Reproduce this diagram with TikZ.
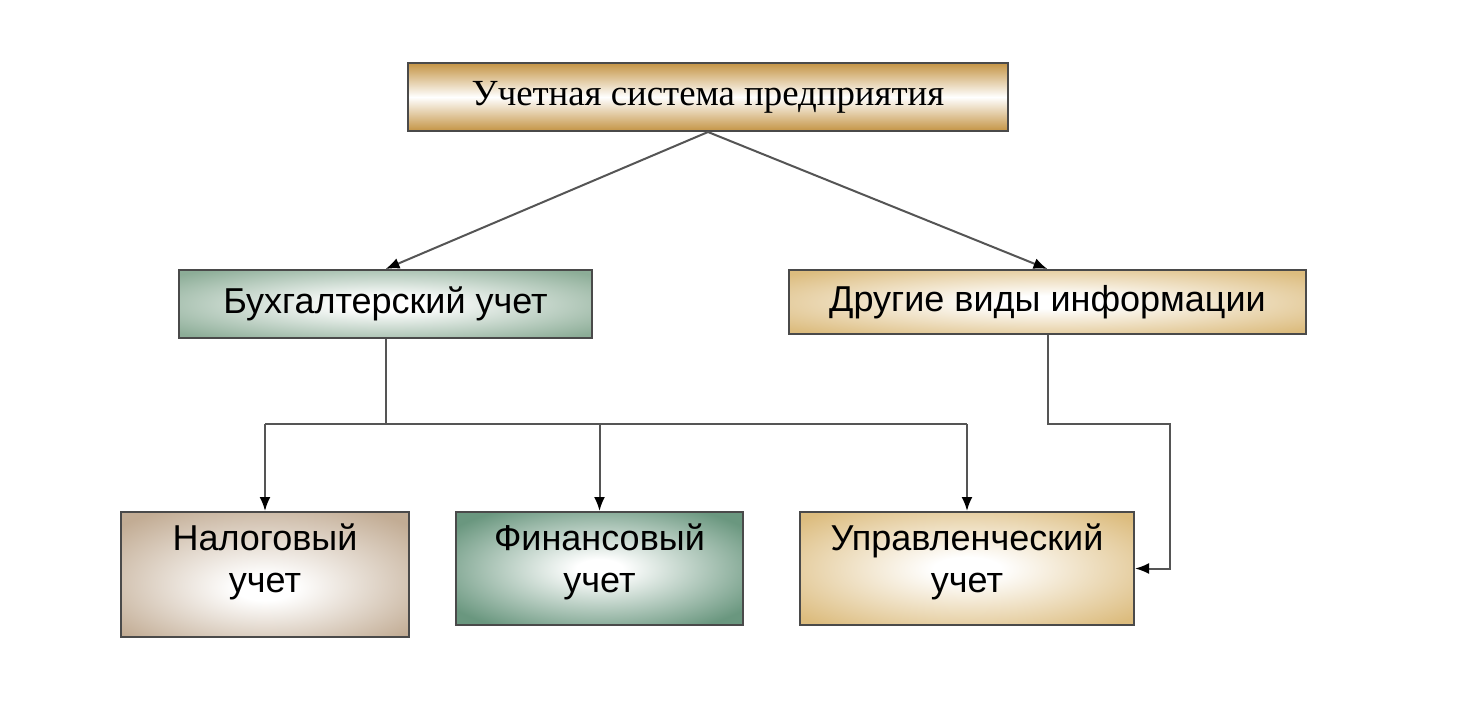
\documentclass[tikz,border=0pt]{standalone}
\usepackage{fontspec}
\setmainfont{Liberation Serif}
\setsansfont{Liberation Sans}
\usetikzlibrary{arrows.meta}
\definecolor{gold}{HTML}{C49444}
\definecolor{sage}{HTML}{8CAD97}
\definecolor{sand}{HTML}{DCBC7E}
\definecolor{taupe}{HTML}{C2AC94}
\definecolor{green2}{HTML}{6A977F}
\definecolor{edge}{HTML}{4A4A4A}
\definecolor{wire}{HTML}{555555}
\pgfdeclareradialshading{rsage}{\pgfpoint{0bp}{0bp}}{color(0bp)=(white); color(5bp)=(white); color(33bp)=(sage); color(50bp)=(sage)}
\pgfdeclareradialshading{rsand}{\pgfpoint{0bp}{0bp}}{color(0bp)=(white); color(5bp)=(white); color(33bp)=(sand); color(50bp)=(sand)}
\pgfdeclareradialshading{rtaupe}{\pgfpoint{0bp}{-6bp}}{color(0bp)=(white); color(5bp)=(white); color(33bp)=(taupe); color(50bp)=(taupe)}
\pgfdeclareradialshading{rgreen}{\pgfpoint{0bp}{0bp}}{color(0bp)=(white); color(4bp)=(white); color(31bp)=(green2); color(50bp)=(green2)}
\tikzset{
  box/.style={draw=edge, line width=2pt, rectangle, inner sep=0pt},
  rbox/.style={box, shading=#1},
  sanslbl/.style={font=\sffamily\fontsize{36}{42}\selectfont, align=center},
  wireline/.style={draw=wire, line width=2pt},
  arr/.style={wireline, -{Latex[length=14pt,width=11pt,color=black]}},
}
\begin{document}
\begin{tikzpicture}[x=1pt,y=-1pt]
\useasboundingbox[fill=white] (0,0) rectangle (1460,705);
% boxes
\node[box, top color=gold, bottom color=gold, middle color=white,
      minimum width=600pt, minimum height=68pt,
      font=\rmfamily\fontsize{36.8}{42}\selectfont] (top) at (708,97) {Учетная система предприятия};
\node[rbox=rsage, minimum width=413pt, minimum height=68pt, sanslbl] (bux) at (385.5,304) {Бухгалтерский учет};
\node[rbox=rsand, minimum width=517pt, minimum height=64pt, sanslbl] (dru) at (1047.5,302) {Другие виды информации};
\node[rbox=rtaupe, minimum width=288pt, minimum height=125pt,
      label={[sanslbl, yshift=12.5pt]center:Налоговый\\учет}] (nal) at (265,574.5) {};
\node[rbox=rgreen, minimum width=287pt, minimum height=113pt,
      label={[sanslbl, yshift=6.5pt]center:Финансовый\\учет}] (fin) at (599.5,568.5) {};
\node[rbox=rsand, minimum width=334pt, minimum height=113pt,
      label={[sanslbl, yshift=6.5pt]center:Управленческий\\учет}] (upr) at (967,568.5) {};
% connectors
\draw[arr] (top.south) -- (bux.north);
\draw[arr] (top.south) -- (dru.north);
\coordinate (bj) at (385.5,424);
\coordinate (bl) at (265,424);
\coordinate (br) at (967,424);
\draw[wireline] (bux.south) -- (bj);
\draw[wireline] (bl) -- (br);
\draw[arr] (bl) -- (nal.north);
\draw[arr] (fin.north |- bj) -- (fin.north);
\draw[arr] (br) -- (upr.north);
\coordinate (rc) at (1170,424);
\draw[arr] (dru.south) |- (rc) |- (upr.east);
\end{tikzpicture}
\end{document}
